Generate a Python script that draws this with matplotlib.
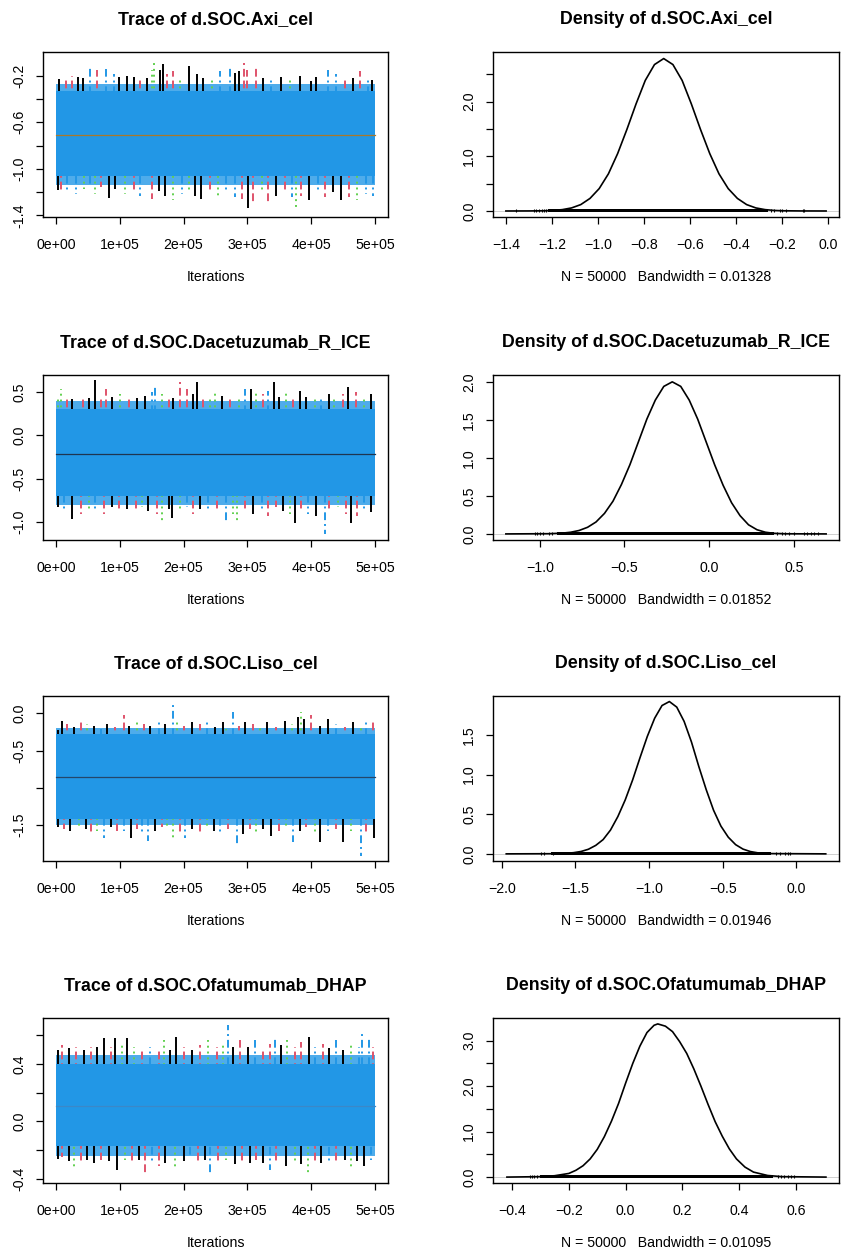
import numpy as np
import matplotlib
matplotlib.use("Agg")
import matplotlib.pyplot as plt

plt.rcParams["font.family"] = ["Liberation Sans", "DejaVu Sans"]

# ---- parameters -------------------------------------------------------
param_names = ["d.SOC.Axi_cel", "d.SOC.Dacetuzumab_R_ICE",
               "d.SOC.Liso_cel", "d.SOC.Ofatumumab_DHAP"]
bandwidths = ["0.01328", "0.01852", "0.01946", "0.01095"]
n_draws = 50000
n_iter = 500000

chain_colors = ["black", "#DF536B", "#61D04F", "#2297E6"]
chain_styles = ["-", (0, (4, 2)), (0, (1, 2)), (0, (1, 2, 4, 2))]

# ---- trace data: bulk of the draws and the extreme excursions ---------
# solid bulk (lower, upper), ragged edge around it, running centre
band_low = [-1.06, -0.70, -1.42, -0.17]
band_high = [-0.33, 0.31, -0.28, 0.40]
edge_low = [-1.14, -0.80, -1.50, -0.24]
edge_high = [-0.27, 0.40, -0.20, 0.46]
centre = [-0.712, -0.215, -0.85, 0.11]
centre_colors = ["#a8782c", "#1f3550", "#24476b", "#3b88c8"]

# excursions: iteration (x 1e5), value, chain index
axi_it = [0.05, 0.16, 0.26, 0.34, 0.43, 0.53, 0.65, 0.79, 0.91, 0.99, 1.12, 1.22,
          1.32, 1.43, 1.51, 1.54, 1.63, 1.68, 1.74, 1.84, 1.95, 2.08, 2.21, 2.31,
          2.44, 2.57, 2.73, 2.80, 2.87, 2.94, 3.00, 3.13, 3.25, 3.37, 3.53, 3.66,
          3.82, 4.00, 4.08, 4.26, 4.39, 4.52, 4.65, 4.76, 4.88, 4.95,
          0.04, 0.08, 0.18, 0.31, 0.44, 0.53, 0.62, 0.70, 0.83, 0.93, 1.09, 1.22,
          1.32, 1.51, 1.61, 1.71, 1.84, 1.97, 2.08, 2.18, 2.28, 2.41, 2.54, 2.67,
          2.80, 2.91, 3.01, 3.09, 3.22, 3.32, 3.45, 3.58, 3.69, 3.76, 3.84, 3.97,
          4.10, 4.21, 4.34, 4.47, 4.59, 4.72, 4.85, 4.96]
axi_val = [-0.23, -0.23, -0.20, -0.21, -0.22, -0.11, -0.15, -0.14, -0.19, -0.21, -0.20, -0.21,
           -0.21, -0.22, -0.15, -0.07, -0.15, -0.10, -0.19, -0.16, -0.22, -0.12, -0.19, -0.22,
           -0.21, -0.16, -0.13, -0.18, -0.16, -0.09, -0.15, -0.13, -0.22, -0.21, -0.21, -0.22,
           -0.20, -0.25, -0.21, -0.15, -0.19, -0.23, -0.22, -0.16, -0.21, -0.24,
           -1.18, -1.19, -1.20, -1.22, -1.17, -1.16, -1.22, -1.16, -1.25, -1.17, -1.22, -1.19,
           -1.23, -1.26, -1.19, -1.23, -1.27, -1.22, -1.19, -1.23, -1.26, -1.20, -1.23, -1.20,
           -1.24, -1.26, -1.34, -1.29, -1.19, -1.29, -1.23, -1.20, -1.24, -1.34, -1.23, -1.27,
           -1.19, -1.24, -1.20, -1.27, -1.24, -1.27, -1.22, -1.23]
axi_ch = [0, 1, 1, 0, 0, 3, 1, 3, 3, 0, 0, 0, 1, 0, 2, 2, 0, 0, 1, 1, 2, 0, 0, 0,
          2, 3, 3, 0, 0, 1, 1, 1, 0, 3, 0, 2, 0, 0, 0, 3, 3, 1, 0, 1, 3, 0,
          0, 1, 3, 3, 2, 3, 2, 1, 0, 0, 2, 1, 3, 1, 0, 0, 2, 3, 2, 0, 0, 1, 2, 3,
          3, 1, 0, 1, 2, 1, 0, 1, 3, 2, 1, 0, 3, 1, 0, 0, 1, 2, 3, 3]

dac_it = [0.04, 0.08, 0.18, 0.26, 0.42, 0.52, 0.61, 0.70, 0.78, 0.88, 1.01, 1.14,
          1.27, 1.40, 1.51, 1.56, 1.66, 1.77, 1.84, 1.95, 2.05, 2.15, 2.21, 2.31,
          2.41, 2.49, 2.60, 2.73, 2.86, 2.96, 3.06, 3.14, 3.25, 3.32, 3.41, 3.50,
          3.60, 3.71, 3.82, 3.92, 4.05, 4.15, 4.28, 4.36, 4.49, 4.57, 4.70, 4.83, 4.93,
          0.04, 0.13, 0.26, 0.39, 0.52, 0.62, 0.75, 0.88, 0.99, 1.12, 1.25, 1.35,
          1.45, 1.58, 1.66, 1.77, 1.82, 1.95, 2.05, 2.15, 2.26, 2.39, 2.52, 2.67,
          2.78, 2.83, 2.96, 3.09, 3.22, 3.32, 3.45, 3.56, 3.66, 3.74, 3.84, 3.95,
          4.08, 4.21, 4.28, 4.41, 4.54, 4.62, 4.72, 4.83, 4.93]
dac_val = [0.44, 0.54, 0.46, 0.42, 0.44, 0.43, 0.64, 0.42, 0.54, 0.44, 0.48, 0.44,
           0.43, 0.46, 0.50, 0.58, 0.48, 0.44, 0.43, 0.62, 0.54, 0.48, 0.62, 0.42,
           0.46, 0.52, 0.46, 0.43, 0.44, 0.54, 0.54, 0.50, 0.48, 0.52, 0.62, 0.44,
           0.50, 0.46, 0.52, 0.44, 0.43, 0.44, 0.48, 0.44, 0.48, 0.56, 0.50, 0.46, 0.48,
           -0.83, -0.87, -0.97, -0.91, -0.87, -0.85, -0.91, -0.83, -0.87, -0.85, -0.89, -0.83,
           -0.87, -0.91, -0.99, -0.85, -0.95, -0.87, -0.83, -0.91, -0.85, -0.89, -0.87, -1.03,
           -0.91, -0.99, -0.85, -0.91, -0.87, -0.93, -0.83, -0.87, -0.91, -1.01, -0.85, -0.91,
           -0.93, -1.14, -0.87, -0.83, -0.91, -1.01, -0.93, -0.85, -0.89]
dac_ch = [2, 2, 1, 0, 1, 0, 0, 1, 1, 0, 2, 1, 0, 0, 3, 3, 2, 1, 0, 1, 1, 0, 0, 1,
          2, 2, 0, 1, 2, 3, 0, 2, 1, 3, 0, 0, 2, 1, 0, 0, 2, 3, 0, 2, 1, 0, 1, 2, 0,
          0, 3, 0, 1, 2, 3, 1, 0, 1, 0, 1, 2, 0, 1, 2, 0, 0, 2, 3, 1, 0, 3, 1, 3,
          2, 2, 1, 0, 3, 1, 1, 0, 2, 0, 1, 3, 0, 3, 1, 2, 1, 0, 1, 3, 0]

liso_it = [0.04, 0.10, 0.18, 0.29, 0.39, 0.49, 0.60, 0.70, 0.80, 0.93, 1.06, 1.14,
           1.27, 1.38, 1.48, 1.61, 1.71, 1.83, 1.90, 2.00, 2.13, 2.26, 2.36, 2.49,
           2.62, 2.67, 2.78, 2.86, 2.96, 3.09, 3.19, 3.30, 3.45, 3.58, 3.69, 3.79,
           3.84, 3.89, 4.00, 4.13, 4.26, 4.39, 4.52, 4.65, 4.78, 4.85, 4.96,
           0.04, 0.13, 0.23, 0.36, 0.47, 0.55, 0.65, 0.75, 0.86, 0.96, 1.06, 1.17,
           1.27, 1.35, 1.44, 1.56, 1.66, 1.74, 1.84, 1.95, 2.02, 2.13, 2.26, 2.36,
           2.47, 2.57, 2.70, 2.84, 2.93, 3.04, 3.14, 3.25, 3.37, 3.50, 3.61, 3.71,
           3.82, 3.92, 4.05, 4.13, 4.26, 4.39, 4.50, 4.62, 4.78, 4.85, 4.98]
liso_val = [-0.23, -0.10, -0.14, -0.19, -0.10, -0.14, -0.17, -0.21, -0.14, -0.19, -0.03, -0.17,
            -0.12, -0.14, -0.17, -0.12, -0.14, 0.15, -0.10, -0.17, -0.12, -0.14, -0.10, -0.19,
            -0.12, -0.21, 0.01, -0.17, -0.12, -0.14, -0.19, -0.12, -0.19, -0.10, -0.14, -0.05,
            0.01, -0.08, -0.03, -0.17, -0.08, -0.14, -0.19, -0.12, -0.17, -0.08, -0.12,
            -1.53, -1.55, -1.58, -1.53, -1.55, -1.62, -1.58, -1.67, -1.53, -1.58, -1.58, -1.67,
            -1.55, -1.60, -1.71, -1.58, -1.53, -1.55, -1.71, -1.62, -1.67, -1.55, -1.60, -1.53,
            -1.58, -1.62, -1.55, -1.76, -1.62, -1.55, -1.60, -1.55, -1.64, -1.58, -1.55, -1.73,
            -1.58, -1.53, -1.62, -1.73, -1.58, -1.55, -1.73, -1.58, -1.91, -1.62, -1.67]
liso_ch = [0, 0, 1, 0, 1, 2, 0, 3, 0, 1, 1, 0, 2, 1, 0, 3, 0, 3, 2, 1, 0, 1, 3, 0,
           0, 2, 3, 1, 0, 1, 2, 0, 1, 0, 2, 0, 2, 0, 1, 0, 0, 3, 1, 0, 2, 3, 1,
           0, 1, 0, 2, 0, 1, 2, 3, 0, 1, 3, 0, 1, 3, 3, 0, 1, 2, 2, 1, 3, 0, 1, 2,
           0, 3, 1, 3, 0, 1, 2, 0, 0, 1, 2, 3, 0, 1, 2, 0, 3, 1, 0, 2, 3, 1, 0]

ofa_it = [0.04, 0.10, 0.21, 0.31, 0.44, 0.55, 0.65, 0.75, 0.86, 0.93, 1.04, 1.11,
          1.22, 1.35, 1.48, 1.61, 1.70, 1.79, 1.88, 2.00, 2.13, 2.26, 2.39, 2.52,
          2.62, 2.69, 2.78, 2.88, 3.01, 3.12, 3.25, 3.35, 3.43, 3.53, 3.62, 3.74,
          3.84, 3.96, 4.05, 4.18, 4.28, 4.39, 4.49, 4.62, 4.74, 4.80, 4.91, 4.96,
          0.04, 0.10, 0.21, 0.29, 0.39, 0.49, 0.60, 0.70, 0.83, 0.96, 1.09, 1.19,
          1.30, 1.39, 1.51, 1.61, 1.71, 1.87, 2.00, 2.10, 2.23, 2.34, 2.42, 2.54,
          2.67, 2.80, 2.91, 3.04, 3.14, 3.25, 3.35, 3.45, 3.61, 3.74, 3.84, 3.95,
          4.05, 4.15, 4.28, 4.39, 4.52, 4.62, 4.72, 4.83, 4.93]
ofa_val = [0.50, 0.53, 0.51, 0.52, 0.50, 0.52, 0.52, 0.58, 0.52, 0.58, 0.54, 0.58,
           0.52, 0.50, 0.52, 0.51, 0.57, 0.50, 0.59, 0.52, 0.50, 0.53, 0.57, 0.52,
           0.54, 0.67, 0.52, 0.57, 0.52, 0.57, 0.50, 0.54, 0.59, 0.53, 0.57, 0.52,
           0.55, 0.59, 0.52, 0.54, 0.51, 0.57, 0.50, 0.54, 0.52, 0.61, 0.59, 0.52,
           -0.26, -0.25, -0.28, -0.34, -0.28, -0.27, -0.29, -0.27, -0.28, -0.34, -0.27, -0.29,
           -0.27, -0.37, -0.28, -0.31, -0.29, -0.32, -0.28, -0.25, -0.29, -0.27, -0.38, -0.28,
           -0.27, -0.30, -0.28, -0.29, -0.27, -0.29, -0.34, -0.28, -0.31, -0.28, -0.30, -0.38,
           -0.28, -0.29, -0.28, -0.30, -0.27, -0.34, -0.28, -0.31, -0.27]
ofa_ch = [0, 1, 0, 1, 0, 1, 0, 0, 1, 0, 2, 0, 2, 1, 3, 1, 2, 0, 0, 1, 0, 1, 2, 1,
          2, 3, 0, 1, 0, 3, 1, 1, 3, 0, 2, 1, 1, 0, 3, 1, 0, 3, 0, 2, 3, 3, 3, 1,
          0, 1, 0, 2, 1, 0, 0, 1, 0, 0, 2, 1, 0, 1, 3, 1, 0, 2, 0, 3, 1, 0, 3, 1,
          2, 0, 1, 0, 1, 0, 3, 1, 0, 2, 0, 2, 1, 0, 3, 1, 0, 2, 0, 0, 3]

# ---- density curves (posterior kernel density) -----------------------
axi_dx = [-1.40, -1.30, -1.235, -1.195, -1.155, -1.115, -1.075, -1.035, -0.995, -0.955,
          -0.915, -0.875, -0.835, -0.795, -0.755, -0.715, -0.675, -0.635, -0.595, -0.555,
          -0.515, -0.475, -0.435, -0.395, -0.355, -0.315, -0.275, -0.235, -0.195, -0.12, -0.01]
axi_dy = [0.0, 0.001, 0.004, 0.010, 0.025, 0.056, 0.117, 0.23, 0.41, 0.68,
          1.05, 1.49, 1.96, 2.39, 2.68, 2.79, 2.68, 2.39, 1.96, 1.49,
          1.05, 0.68, 0.41, 0.23, 0.117, 0.056, 0.025, 0.010, 0.004, 0.001, 0.0]

dac_dx = [-1.20, -0.95, -0.868, -0.818, -0.768, -0.718, -0.668, -0.618, -0.568, -0.518,
          -0.468, -0.418, -0.368, -0.318, -0.268, -0.218, -0.168, -0.118, -0.068, -0.018,
          0.032, 0.082, 0.132, 0.182, 0.232, 0.282, 0.332, 0.382, 0.45, 0.69]
dac_dy = [0.0, 0.003, 0.010, 0.022, 0.045, 0.087, 0.157, 0.27, 0.43, 0.65,
          0.91, 1.21, 1.51, 1.76, 1.94, 2.00, 1.94, 1.76, 1.51, 1.21,
          0.91, 0.64, 0.41, 0.24, 0.12, 0.055, 0.022, 0.008, 0.002, 0.0]

liso_dx = [-1.97, -1.65, -1.562, -1.512, -1.462, -1.412, -1.362, -1.312, -1.262, -1.212,
           -1.162, -1.112, -1.062, -1.012, -0.962, -0.912, -0.862, -0.812, -0.762, -0.712,
           -0.662, -0.612, -0.562, -0.512, -0.462, -0.412, -0.362, -0.312, -0.262, -0.20, 0.20]
liso_dy = [0.0, 0.002, 0.007, 0.015, 0.030, 0.058, 0.107, 0.18, 0.30, 0.47,
           0.68, 0.93, 1.21, 1.48, 1.71, 1.87, 1.92, 1.85, 1.67, 1.41,
           1.10, 0.81, 0.55, 0.35, 0.21, 0.116, 0.06, 0.029, 0.013, 0.004, 0.0]

ofa_dx = [-0.418, -0.30, -0.25, -0.20, -0.175, -0.15, -0.125, -0.10, -0.075, -0.05,
          -0.025, 0.00, 0.025, 0.05, 0.075, 0.10, 0.113, 0.14, 0.165, 0.19,
          0.215, 0.24, 0.265, 0.29, 0.315, 0.34, 0.365, 0.39, 0.42, 0.45,
          0.50, 0.55, 0.705]
ofa_dy = [0.0, 0.01, 0.03, 0.08, 0.15, 0.25, 0.40, 0.61, 0.89, 1.23,
          1.62, 2.07, 2.50, 2.88, 3.18, 3.34, 3.37, 3.32, 3.20, 2.98,
          2.72, 2.38, 2.00, 1.60, 1.22, 0.90, 0.62, 0.40, 0.22, 0.11,
          0.035, 0.01, 0.0]

# rug: dense stretch and the isolated draws in the tails
rug_dense = [(-1.216, -0.264), (-0.90, 0.38), (-1.667, -0.17), (-0.303, 0.518)]
rug_sparse = [
    [-1.354, -1.28, -1.27, -1.255, -1.245, -1.234, -1.226, -0.25, -0.235, -0.21, -0.20, -0.185, -0.112, -0.105],
    [-1.026, -1.016, -0.996, -0.98, -0.947, -0.927, 0.40, 0.43, 0.45, 0.47, 0.50, 0.56, 0.58, 0.60, 0.62, 0.64],
    [-1.735, -1.717, -1.655, -0.136, -0.113, -0.079, -0.057, -0.045],
    [-0.338, -0.330, -0.321, -0.312, 0.535, 0.547, 0.559, 0.571, 0.582, 0.594],
]

# ---- axis settings ---------------------------------------------------
trace_ylim = [(-1.414, 0.003), (-1.21, 0.70), (-1.98, 0.23), (-0.43, 0.72)]
trace_yticks = [[-1.4, -1.2, -1.0, -0.8, -0.6, -0.4, -0.2],
                [-1.0, -0.5, 0.0, 0.5],
                [-1.5, -1.0, -0.5, 0.0],
                [-0.4, -0.2, 0.0, 0.2, 0.4, 0.6]]
trace_ylabels = [["-1.4", "", "-1.0", "", "-0.6", "", "-0.2"],
                 ["-1.0", "-0.5", "0.0", "0.5"],
                 ["-1.5", "", "-0.5", "0.0"],
                 ["-0.4", "", "0.0", "", "0.4", ""]]
iter_ticks = [0, 100000, 200000, 300000, 400000, 500000]
iter_labels = ["0e+00", "1e+05", "2e+05", "3e+05", "4e+05", "5e+05"]

dens_xlim = [(-1.456, 0.046), (-1.276, 0.766), (-2.06, 0.29), (-0.467, 0.751)]
dens_xticks = [[-1.4, -1.2, -1.0, -0.8, -0.6, -0.4, -0.2, 0.0],
               [-1.0, -0.5, 0.0, 0.5],
               [-2.0, -1.5, -1.0, -0.5, 0.0],
               [-0.4, -0.2, 0.0, 0.2, 0.4, 0.6]]
dens_ylim = [(-0.11, 2.91), (-0.08, 2.09), (-0.09, 1.99), (-0.13, 3.50)]
dens_yticks = [[0.0, 0.5, 1.0, 1.5, 2.0, 2.5],
               [0.0, 0.5, 1.0, 1.5, 2.0],
               [0.0, 0.5, 1.0, 1.5],
               [0.0, 0.5, 1.0, 1.5, 2.0, 2.5, 3.0]]
dens_ylabels = [["0.0", "", "1.0", "", "2.0", ""],
                ["0.0", "0.5", "1.0", "1.5", "2.0"],
                ["0.0", "0.5", "1.0", "1.5"],
                ["0.0", "", "1.0", "", "2.0", "", "3.0"]]

traces = [(axi_it, axi_val, axi_ch), (dac_it, dac_val, dac_ch),
          (liso_it, liso_val, liso_ch), (ofa_it, ofa_val, ofa_ch)]
densities = [(axi_dx, axi_dy), (dac_dx, dac_dy), (liso_dx, liso_dy), (ofa_dx, ofa_dy)]

W, H = 842, 1253
row_tops = [52, 375, 696, 1018]
box_h = 165
TICK_FS = 10.2
TITLE_FS = 12.8


def r_style(ax):
    """ base-graphics look: full box, outward ticks """
    for s in ax.spines.values():
        s.set_linewidth(1.0)
    ax.tick_params(direction="out", length=5, width=0.9, labelsize=TICK_FS)
    ax.tick_params(axis="x", pad=10)
    ax.tick_params(axis="y", pad=7)
    for lab in ax.get_yticklabels():
        lab.set_rotation(90)
        lab.set_va("center")


def add_title(ax, text):
    ax.annotate(text, xy=(0.5, 1), xycoords="axes fraction", xytext=(0, 23.5),
                textcoords="offset points", ha="center", va="center",
                fontsize=TITLE_FS, fontweight="bold")


def add_xlabel(ax, text):
    ax.annotate(text, xy=(0.5, 0), xycoords="axes fraction", xytext=(0, -43.5),
                textcoords="offset points", ha="center", va="center",
                fontsize=TICK_FS)


def drawTrace(ax, i):
    it, val, ch = traces[i]
    it = np.array(it) * 1e5
    val = np.array(val)
    ch = np.array(ch)
    blue = chain_colors[3]
    # ragged edge of the bulk, mostly covered by the last chain
    ax.fill_between([0, n_iter], edge_low[i], edge_high[i], color=blue,
                    alpha=0.8, linewidth=0, zorder=1)
    for c in range(4):
        m = ch == c
        ax.vlines(it[m], centre[i], val[m], colors=chain_colors[c],
                  linestyles=[chain_styles[c]], linewidth=1.4, zorder=2)
    ax.fill_between([0, n_iter], band_low[i], band_high[i],
                    color=blue, linewidth=0, zorder=3)
    ax.plot([0, n_iter], [centre[i], centre[i]], color=centre_colors[i],
            linewidth=0.9, zorder=4)
    ax.set_xlim(-0.04 * n_iter, 1.04 * n_iter)
    ax.set_ylim(*trace_ylim[i])
    ax.set_xticks(iter_ticks)
    ax.set_xticklabels(iter_labels)
    ax.set_yticks(trace_yticks[i])
    ax.set_yticklabels(trace_ylabels[i])
    r_style(ax)
    add_title(ax, "Trace of " + param_names[i])
    add_xlabel(ax, "Iterations")


def drawDensity(ax, i):
    dx, dy = densities[i]
    ax.axhline(0, color="#c8c8c8", linewidth=0.6, zorder=0)
    ax.plot(dx, dy, color="black", linewidth=1.2, zorder=3)
    lo, hi = rug_dense[i]
    ymax = dens_ylim[i][1]
    ax.fill_between([lo, hi], -0.006 * ymax, 0.012 * ymax, color="black",
                    linewidth=0, zorder=2)
    ax.vlines(rug_sparse[i], -0.006 * ymax, 0.012 * ymax, color="black",
              linewidth=0.8, zorder=2)
    ax.set_xlim(*dens_xlim[i])
    ax.set_ylim(*dens_ylim[i])
    ax.set_xticks(dens_xticks[i])
    ax.set_xticklabels([f"{t:.1f}".replace("-", "\u2212") for t in dens_xticks[i]])
    ax.set_yticks(dens_yticks[i])
    ax.set_yticklabels(dens_ylabels[i])
    r_style(ax)
    add_title(ax, "Density of " + param_names[i])
    add_xlabel(ax, f"N = {n_draws}   Bandwidth = {bandwidths[i]}")


fig = plt.figure(figsize=(W / 100, H / 100), dpi=100)
for i in range(4):
    bottom = 1 - (row_tops[i] + box_h) / H
    ax_t = fig.add_axes([43 / W, bottom, 345 / W, box_h / H])
    drawTrace(ax_t, i)
    ax_d = fig.add_axes([493 / W, bottom, 346 / W, box_h / H])
    drawDensity(ax_d, i)

fig.savefig("out.png", dpi=100)
